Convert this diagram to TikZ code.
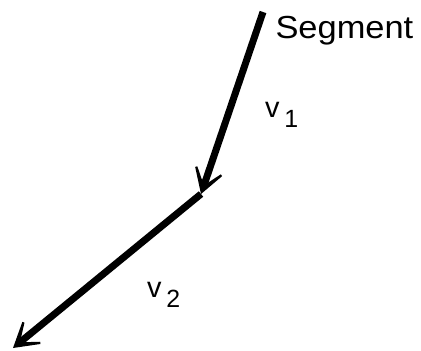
\documentclass[tikz,border=0pt]{standalone}
\usepackage{fontspec}
\setmainfont{Liberation Sans}
\usetikzlibrary{arrows.meta}
\tikzset{
  vec/.style={line width=7bp, -{Stealth[length=40bp, width=48bp, inset=31bp]}},
  lbl/.style={anchor=base west, inner sep=0pt, outer sep=0pt}
}
\newcommand{\vlab}[1]{\fontsize{29}{29}\selectfont v\hspace{5bp}\raisebox{-10bp}{\fontsize{25}{25}\selectfont #1}}
\begin{document}
\begin{tikzpicture}[x=1bp, y=-1bp]
\useasboundingbox (0,0) rectangle (421,351);
\coordinate (a) at (263,12);
\coordinate (b) at (201,194);
\coordinate (c) at (13,348);
\draw[vec] (a) -- (b);
\draw[vec] (b) -- (c);
\node[lbl] (seg) at (275.5,38) {\scalebox{1.08}[1]{\fontsize{32}{32}\selectfont Segment}};
\node[lbl] (v1) at (265,117) {\vlab{1}};
\node[lbl] (v2) at (147,297) {\vlab{2}};
\end{tikzpicture}
\end{document}
